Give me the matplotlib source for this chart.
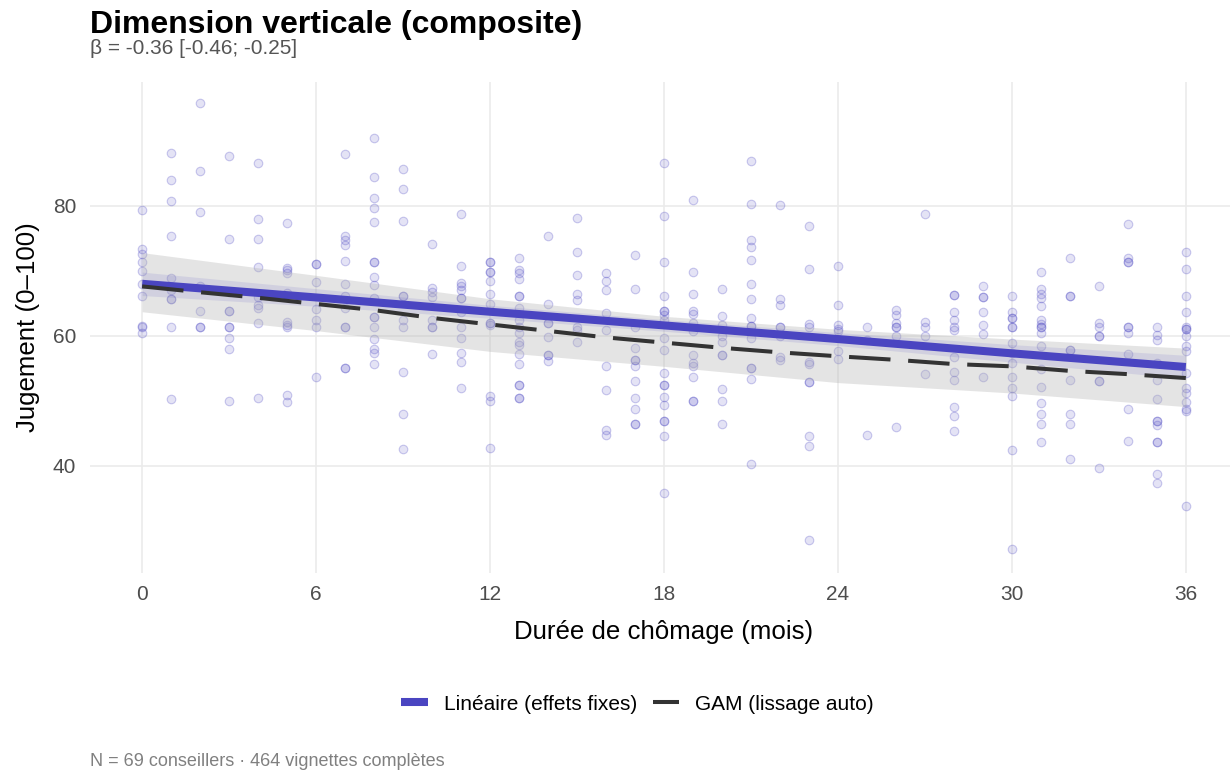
import matplotlib
matplotlib.use("Agg")
import matplotlib.pyplot as plt
from matplotlib.lines import Line2D
import numpy as np

plt.rcParams['font.family'] = ['Liberation Sans', 'DejaVu Sans']

# judgement scores, by unemployment duration (months)
scores_by_month = {
    0: [79.4, 73.4, 72.6, 71.4, 69.9, 68.0, 66.2, 61.5, 61.4, 60.5],
    1: [88.2, 83.9, 80.8, 75.4, 68.9, 67.1, 65.6, 65.6, 61.4, 50.3],
    2: [95.8, 85.3, 79.1, 67.7, 63.8, 61.4, 61.4],
    3: [87.7, 74.9, 66.8, 63.8, 63.8, 61.4, 61.4, 59.7, 57.9, 49.9],
    4: [86.6, 77.9, 74.9, 70.6, 66.0, 64.8, 64.3, 61.9, 50.5],
    5: [77.4, 70.5, 70.2, 69.7, 66.6, 62.1, 61.7, 61.3, 50.9, 49.8],
    6: [71.0, 71.0, 68.3, 64.1, 62.5, 61.4, 53.6],
    7: [87.9, 75.3, 74.8, 74.0, 71.5, 67.9, 66.2, 64.3, 61.4, 61.4, 55.0, 55.0],
    8: [90.4, 84.5, 81.2, 79.7, 77.5, 71.3, 71.3, 69.1, 67.8, 65.8, 62.9, 62.9,
        61.4, 59.5, 57.9, 57.3, 55.7],
    9: [85.7, 82.6, 77.7, 66.1, 66.1, 62.5, 61.4, 54.4, 47.9, 42.6],
    10: [74.1, 67.3, 66.8, 65.9, 62.5, 61.3, 61.3, 57.2],
    11: [78.7, 70.7, 68.1, 67.6, 67.1, 65.8, 65.8, 63.7, 61.3, 59.7, 57.3, 55.9, 51.9],
    12: [71.3, 71.3, 69.8, 69.8, 68.5, 66.4, 64.9, 61.9, 61.9, 61.7, 50.7, 49.9, 42.8],
    13: [71.9, 70.2, 69.7, 68.8, 66.1, 66.1, 64.3, 62.5, 61.4, 60.4, 59.1, 58.6,
         57.2, 55.7, 52.5, 52.5, 50.5, 50.5],
    14: [75.3, 64.9, 61.9, 61.9, 59.8, 57.1, 57.1, 56.1],
    15: [78.2, 72.9, 69.4, 66.5, 65.5, 61.4, 60.9, 59.0],
    16: [69.6, 68.4, 67.0, 63.5, 60.9, 55.4, 51.6, 45.5, 44.8],
    17: [72.4, 67.2, 61.3, 58.1, 56.2, 56.2, 55.3, 53.1, 50.5, 48.8, 46.4, 46.4],
    18: [86.6, 78.5, 71.3, 66.1, 63.8, 63.8, 63.2, 62.5, 59.6, 57.8, 54.3, 52.4,
         52.4, 50.6, 49.3, 46.9, 46.9, 44.6, 35.8],
    19: [80.9, 69.8, 66.5, 63.8, 63.4, 61.9, 60.7, 57.0, 55.8, 55.3, 53.7, 49.9, 49.9],
    20: [67.2, 63.0, 61.7, 59.9, 59.0, 57.0, 57.0, 51.8, 49.9, 46.4],
    21: [86.9, 80.3, 74.8, 73.7, 71.7, 67.9, 65.6, 62.7, 61.5, 61.5, 59.6, 55.0,
         55.0, 53.3, 40.3],
    22: [80.1, 65.6, 64.8, 61.4, 61.4, 59.9, 56.8, 56.2],
    23: [76.9, 70.3, 61.8, 61.3, 55.9, 55.7, 52.9, 52.9, 44.6, 43.0, 28.6],
    24: [70.8, 64.8, 61.7, 61.0, 60.7, 57.7, 56.4],
    25: [61.4, 59.4, 44.8],
    26: [63.9, 63.2, 61.9, 61.4, 61.4, 59.9, 45.9],
    27: [78.7, 62.2, 61.4, 60.0, 54.1],
    28: [66.3, 66.3, 63.7, 62.5, 61.3, 60.9, 56.8, 54.5, 53.2, 49.1, 47.6, 45.4],
    29: [67.6, 65.9, 65.9, 63.6, 61.7, 60.3, 53.7],
    30: [66.1, 63.7, 62.7, 62.7, 61.4, 61.4, 58.9, 57.3, 55.8, 53.6, 51.9, 50.8,
         42.5, 27.2],
    31: [69.8, 67.2, 66.5, 65.8, 64.6, 62.5, 61.8, 61.4, 61.4, 60.5, 58.4, 54.9,
         52.1, 49.6, 48.0, 46.4, 43.6],
    32: [71.9, 66.1, 66.1, 57.8, 57.8, 53.2, 48.0, 46.4, 41.0],
    33: [67.7, 61.9, 61.3, 59.9, 59.9, 53.1, 53.1, 39.7],
    34: [77.2, 71.9, 71.4, 71.4, 61.4, 61.4, 60.4, 57.2, 48.8, 43.8],
    35: [61.4, 60.1, 59.3, 55.8, 53.2, 50.2, 46.9, 46.9, 46.3, 43.7, 43.7, 38.7, 37.4],
    36: [72.9, 70.3, 66.2, 63.7, 61.4, 61.0, 61.0, 60.0, 58.5, 57.7, 54.2, 51.9,
         51.2, 49.8, 48.7, 48.4, 33.8],
}

# linear fit (fixed effects) and its CI
band_months = [0, 6, 12, 18, 24, 30, 36]
lin_fit = [68.0, 65.9, 63.7, 61.6, 59.5, 57.3, 55.2]
lin_lo = [66.2, 64.55, 62.7, 60.7, 58.5, 55.95, 53.4]
lin_hi = [69.8, 67.25, 64.7, 62.5, 60.5, 58.65, 57.0]

# GAM smooth and its CI
gam_months = [0, 2, 4, 6, 8, 10, 12, 14, 16, 18, 20, 22, 24, 26, 28, 30, 32, 34, 36]
gam_fit = [67.6, 66.7, 65.85, 64.9, 63.95, 62.75, 61.75, 60.75, 59.75, 58.95,
           58.15, 57.45, 56.85, 56.3, 55.65, 55.3, 54.6, 54.1, 53.5]
gam_lo = [63.7, 60.8, 57.6, 55.3, 52.8, 51.2, 49.1]
gam_hi = [72.8, 69.3, 65.7, 63.0, 61.0, 59.5, 58.1]

x_ticks = [0, 6, 12, 18, 24, 30, 36]
y_ticks = [40, 60, 80]

BLUE = '#4A45C1'
W, H = 1230, 771

pt_x = np.concatenate([[m] * len(v) for m, v in scores_by_month.items()])
pt_y = np.concatenate([v for v in scores_by_month.values()])

fig = plt.figure(figsize=(W / 100, H / 100), dpi=100)
ax = fig.add_axes([90 / W, 1 - 573 / H, 1148 / W, (573 - 81.7) / H])
ax.set_facecolor('white')

ax.scatter(pt_x, pt_y, s=38, facecolor=(0.29, 0.27, 0.76, 0.15),
           edgecolor=(0.29, 0.27, 0.76, 0.28), linewidth=0.8, zorder=2)

ax.fill_between(band_months, gam_lo, gam_hi, color='#B3B3B3', alpha=0.35,
                linewidth=0, zorder=3)
ax.fill_between(band_months, lin_lo, lin_hi, color=BLUE, alpha=0.12,
                linewidth=0, zorder=3)
ax.plot(band_months, lin_fit, color=BLUE, lw=5.8, solid_capstyle='butt', zorder=4)
ax.plot(gam_months, gam_fit, color='#333333', lw=2.9, dashes=(10.3, 4.4),
        dash_capstyle='butt', zorder=5)

ax.set_xlim(-1.8, 37.8)
ax.set_ylim(23.5, 99.1)
ax.set_xticks(x_ticks)
ax.set_yticks(y_ticks)
ax.grid(True, color='#EBEBEB', lw=1.2, zorder=0)
ax.set_axisbelow(True)
for s in ax.spines.values():
    s.set_visible(False)
ax.tick_params(axis='both', length=0, labelsize=15, labelcolor='#4D4D4D')
ax.tick_params(axis='x', pad=9)
ax.tick_params(axis='y', pad=10)

fig.text(90 / W, 1 - 33 / H, 'Dimension verticale (composite)', fontsize=23,
         fontweight='bold', ha='left', va='baseline')
fig.text(90 / W, 1 - 54 / H, 'β = -0.36 [-0.46; -0.25]', fontsize=15,
         color='#555555', ha='left', va='baseline')
fig.text(664 / W, 1 - 632 / H, 'Durée de chômage (mois)', fontsize=18.6,
         ha='center', va='center')
fig.text(28 / W, 1 - 327.5 / H, 'Jugement (0–100)', fontsize=18.6,
         ha='center', va='center', rotation=90)
fig.text(90 / W, 1 - 766 / H, 'N = 69 conseillers · 464 vignettes complètes',
         fontsize=13, color='#808080', ha='left', va='baseline')

handles = [Line2D([], [], color=BLUE, lw=5.8, solid_capstyle='butt'),
           Line2D([], [], color='#333333', lw=2.9, dashes=(10.3, 4.4),
                  dash_capstyle='butt')]
fig.legend(handles, ['Linéaire (effets fixes)', 'GAM (lissage auto)'],
           loc='center', bbox_to_anchor=(637.5 / W, 1 - 704 / H), ncol=2,
           frameon=False, fontsize=15, handlelength=1.25, handletextpad=0.77,
           columnspacing=0.77)

fig.savefig('out.png', dpi=100, facecolor='white')
